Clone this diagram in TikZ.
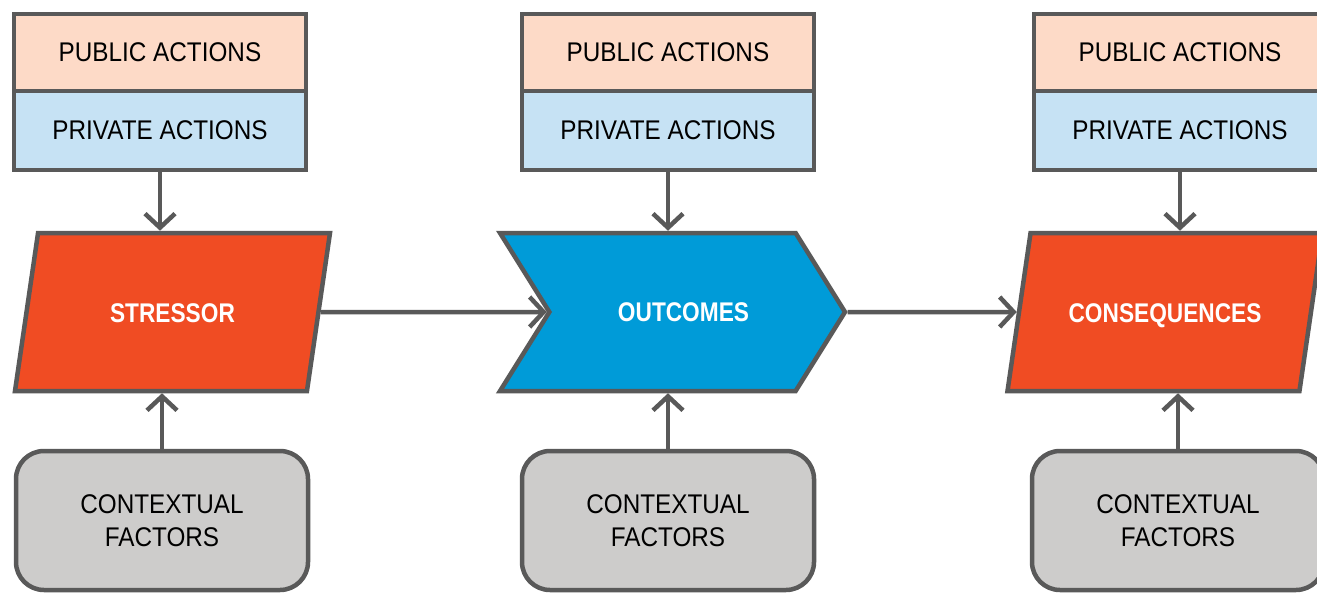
\documentclass[tikz,border=0pt]{standalone}
\usepackage{fontspec}
\setmainfont{Liberation Sans}
\newfontfamily\boxfont{Liberation Sans}[FakeStretch=0.9]
\newfontfamily\stagefont{Liberation Sans}[FakeStretch=0.84]
\usetikzlibrary{shapes.geometric,shapes.symbols,arrows.meta}
\definecolor{edge}{HTML}{595959}
\definecolor{peach}{HTML}{FDDAC7}
\definecolor{skyblue}{HTML}{C6E2F4}
\definecolor{ctxgray}{HTML}{CDCCCB}
\definecolor{stressred}{HTML}{F04C23}
\definecolor{outblue}{HTML}{009BD8}
\begin{document}
\begin{tikzpicture}[x=1pt, y=-1pt, line width=4.5pt,
  action/.style={draw=edge, minimum width=292pt, inner sep=0pt, text=black,
    font=\boxfont\fontsize{27}{33}\selectfont},
  public/.style={action, fill=peach, minimum height=77pt},
  private/.style={action, fill=skyblue, minimum height=79pt},
  context/.style={action, fill=ctxgray, rounded corners=28pt, minimum height=139pt, align=center},
  stage/.style={draw=edge, inner xsep=0pt, text=white,
    font=\stagefont\bfseries\fontsize{27}{30}\selectfont},
  slant/.style={stage, trapezium, trapezium left angle=81.7, trapezium right angle=98.3,
    text height=20pt, text depth=0pt, inner ysep=69pt,
    trapezium stretches body=true, minimum width=315pt, fill=stressred},
  chevron/.style={stage, signal, signal to=east, signal from=west, signal pointer angle=116,
    inner ysep=0pt, minimum height=158pt, minimum width=345pt, fill=outblue},
  link/.style={draw=edge, -{Straight Barb[length=14pt 0, width=30pt 0]}}
]
\useasboundingbox (0,0) rectangle (1317,594);
% actions above each stage
\node (pub1) [public] at (160,52.5) {PUBLIC ACTIONS};
\node (priv1) [private] at (160,130.5) {PRIVATE ACTIONS};
\node (pub2) [public] at (668,52.5) {PUBLIC ACTIONS};
\node (priv2) [private] at (668,130.5) {PRIVATE ACTIONS};
\node (pub3) [public] at (1180,52.5) {PUBLIC ACTIONS};
\node (priv3) [private] at (1180,130.5) {PRIVATE ACTIONS};
% stages
\node (stress) [slant] at (172.5,312) {STRESSOR};
\node (outc) [chevron] at (672.5,312) {\hspace*{22pt}OUTCOMES};
\node (cons) [slant] at (1165,312) {CONSEQUENCES};
% contextual factors
\node (ctx1) [context] at (162,520.5) {CONTEXTUAL\\FACTORS};
\node (ctx2) [context] at (668,520.5) {CONTEXTUAL\\FACTORS};
\node (ctx3) [context] at (1178,520.5) {CONTEXTUAL\\FACTORS};
\draw [link] (priv1.south) -- (priv1.south |- stress.north);
\draw [link] (priv2.south) -- (priv2.south |- outc.north);
\draw [link] (priv3.south) -- (priv3.south |- cons.north);
\draw [link] (ctx1.north) -- (ctx1.north |- stress.south);
\draw [link] (ctx2.north) -- (ctx2.north |- outc.south);
\draw [link] (ctx3.north) -- (ctx3.north |- cons.south);
\draw [link] (stress.east) -- (outc.west);
\draw [link] (outc.east) -- (cons.west);
\end{tikzpicture}
\end{document}
